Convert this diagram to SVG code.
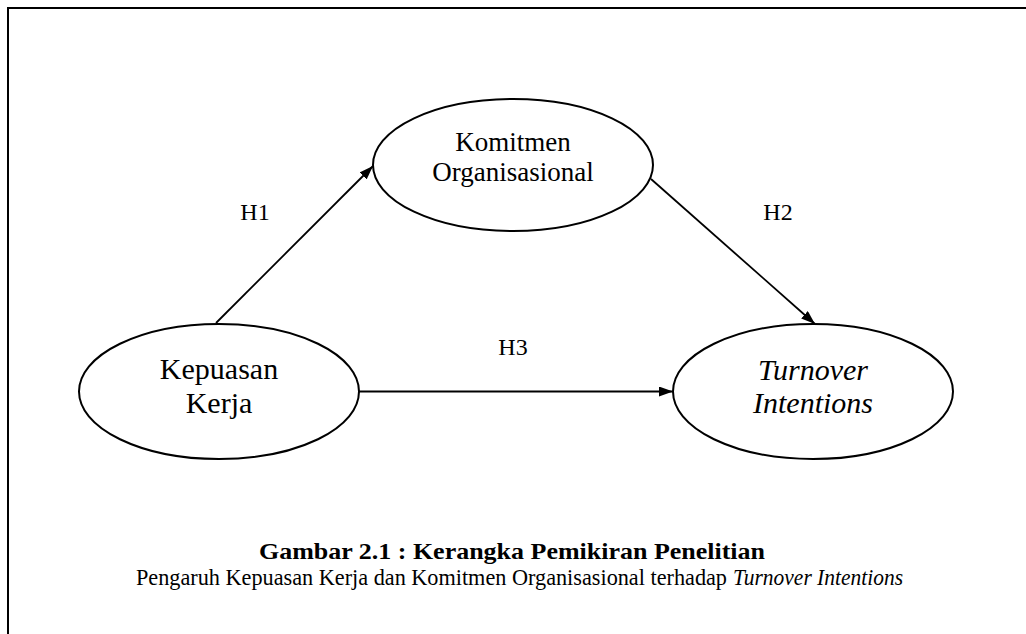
<svg xmlns="http://www.w3.org/2000/svg" width="1026" height="634" viewBox="0 0 1026 634">
<style>
.node{fill:#fff;stroke:#000;stroke-width:2}
.lbl{font-family:"Liberation Serif","Times New Roman",serif;fill:#000;text-anchor:middle}
.cap{font-family:"Liberation Serif","Times New Roman",serif;fill:#000;text-anchor:start;font-size:23px}
.edge{stroke:#000;stroke-width:1.8;fill:none}
</style>
<defs>
<marker id="arr" viewBox="0 0 14 10" refX="14" refY="5" markerWidth="14" markerHeight="10" markerUnits="userSpaceOnUse" orient="auto">
<path d="M0,0 L14,5 L0,10 z" fill="#000"/>
</marker>
</defs>
<rect x="0" y="0" width="1026" height="634" fill="#fff"/>
<rect x="8" y="8" width="1040" height="650" fill="none" stroke="#000" stroke-width="2"/>
<g id="connectors">
<line class="edge" x1="216" y1="323" x2="373" y2="166" marker-end="url(#arr)"/>
<line class="edge" x1="651" y1="179" x2="815" y2="324" marker-end="url(#arr)"/>
<line class="edge" x1="359" y1="391.5" x2="673" y2="391.5" marker-end="url(#arr)"/>
<text class="lbl" x="255" y="220" font-size="24">H1</text>
<text class="lbl" x="778" y="220" font-size="24">H2</text>
<text class="lbl" x="513" y="355" font-size="24">H3</text>
</g>
<g id="komitmen">
<ellipse class="node" cx="513" cy="165" rx="140" ry="66"/>
<text class="lbl" x="513" y="151" font-size="27">Komitmen</text>
<text class="lbl" x="513" y="181" font-size="27">Organisasional</text>
</g>
<g id="kepuasan">
<ellipse class="node" cx="219" cy="391.5" rx="140" ry="67.5"/>
<text class="lbl" x="219" y="379" font-size="30">Kepuasan</text>
<text class="lbl" x="219" y="413" font-size="30">Kerja</text>
</g>
<g id="turnover">
<ellipse class="node" cx="813" cy="391.5" rx="140" ry="67.5"/>
<text class="lbl" x="813" y="380" font-size="30" font-style="italic">Turnover</text>
<text class="lbl" x="813" y="413" font-size="30" font-style="italic">Intentions</text>
</g>
<g id="caption">
<text class="lbl" x="512" y="559" font-size="24" font-weight="bold" textLength="506" lengthAdjust="spacingAndGlyphs">Gambar 2.1 : Kerangka Pemikiran Penelitian</text>
<text class="cap" x="136" y="585" textLength="591" lengthAdjust="spacingAndGlyphs">Pengaruh Kepuasan Kerja dan Komitmen Organisasional terhadap</text>
<text class="cap" x="733" y="585" font-style="italic" textLength="170" lengthAdjust="spacingAndGlyphs">Turnover Intentions</text>
</g>
</svg>
